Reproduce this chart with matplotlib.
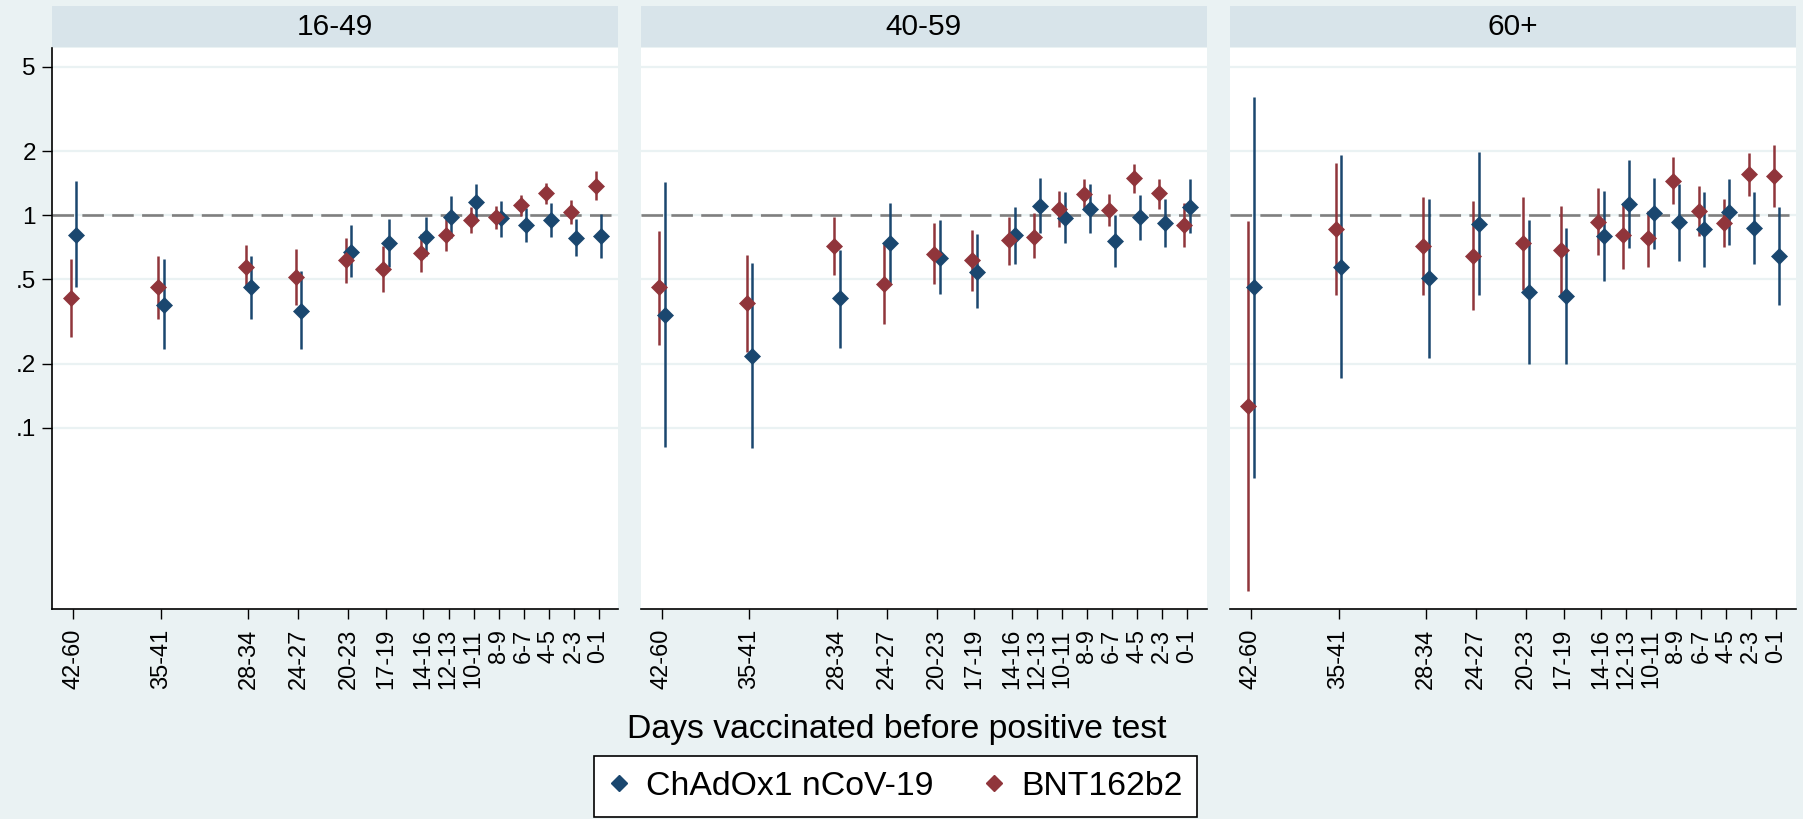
import matplotlib.pyplot as plt
from matplotlib.lines import Line2D
from matplotlib.patches import Rectangle

plt.rcParams['font.family'] = ['Liberation Sans', 'DejaVu Sans']
plt.rcParams['lines.scale_dashes'] = False

# x position = first day of each band (axis reversed)
day_start = [42, 35, 28, 24, 20, 17, 14, 12, 10, 8, 6, 4, 2, 0]
day_labels = ['42-60', '35-41', '28-34', '24-27', '20-23', '17-19', '14-16',
              '12-13', '10-11', '8-9', '6-7', '4-5', '2-3', '0-1']
groups = ['16-49', '40-59', '60+']

# ChAdOx1 nCoV-19: odds ratio and 95% CI per age group
chad_est_1649 = [0.81, 0.38, 0.46, 0.355, 0.67, 0.74, 0.79, 0.985, 1.16, 0.97, 0.90, 0.95, 0.785, 0.80]
chad_lo_1649 = [0.46, 0.234, 0.325, 0.234, 0.51, 0.57, 0.64, 0.785, 0.96, 0.79, 0.75, 0.79, 0.643, 0.63]
chad_hi_1649 = [1.45, 0.62, 0.645, 0.547, 0.90, 0.964, 0.978, 1.236, 1.408, 1.171, 1.08, 1.146, 0.964, 1.014]
chad_est_4059 = [0.341, 0.217, 0.407, 0.738, 0.632, 0.543, 0.805, 1.109, 0.968, 1.071, 0.760, 0.979, 0.917, 1.098]
chad_lo_4059 = [0.081, 0.080, 0.237, 0.478, 0.425, 0.365, 0.588, 0.824, 0.738, 0.823, 0.573, 0.765, 0.707, 0.823]
chad_hi_4059 = [1.434, 0.595, 0.687, 1.139, 0.947, 0.817, 1.098, 1.493, 1.291, 1.404, 1.0, 1.246, 1.193, 1.482]
chad_est_60 = [0.458, 0.573, 0.505, 0.907, 0.434, 0.417, 0.799, 1.130, 1.022, 0.927, 0.859, 1.040, 0.869, 0.646]
chad_lo_60 = [0.058, 0.171, 0.214, 0.420, 0.199, 0.199, 0.492, 0.699, 0.692, 0.610, 0.569, 0.725, 0.590, 0.379]
chad_hi_60 = [3.61, 1.921, 1.189, 1.978, 0.950, 0.869, 1.305, 1.814, 1.493, 1.41, 1.291, 1.477, 1.283, 1.098]

# BNT162b2
bnt_est_1649 = [0.41, 0.458, 0.569, 0.511, 0.614, 0.557, 0.663, 0.808, 0.950, 0.982, 1.118, 1.277, 1.033, 1.378]
bnt_lo_1649 = [0.268, 0.324, 0.45, 0.379, 0.479, 0.434, 0.539, 0.682, 0.828, 0.862, 0.992, 1.134, 0.910, 1.18]
bnt_hi_1649 = [0.625, 0.643, 0.725, 0.694, 0.782, 0.715, 0.816, 0.96, 1.098, 1.11, 1.246, 1.423, 1.180, 1.61]
bnt_est_4059 = [0.458, 0.385, 0.719, 0.474, 0.658, 0.616, 0.765, 0.793, 1.067, 1.255, 1.059, 1.493, 1.269, 0.900]
bnt_lo_4059 = [0.245, 0.228, 0.522, 0.308, 0.475, 0.442, 0.584, 0.628, 0.884, 1.066, 0.893, 1.277, 1.071, 0.712]
bnt_hi_4059 = [0.846, 0.651, 0.982, 0.729, 0.917, 0.853, 0.985, 1.022, 1.301, 1.477, 1.259, 1.738, 1.482, 1.138]
bnt_est_60 = [0.127, 0.859, 0.717, 0.646, 0.738, 0.687, 0.933, 0.805, 0.785, 1.454, 1.048, 0.923, 1.564, 1.536]
bnt_lo_60 = [0.017, 0.422, 0.422, 0.358, 0.445, 0.427, 0.651, 0.557, 0.573, 1.130, 0.799, 0.707, 1.232, 1.098]
bnt_hi_60 = [0.940, 1.768, 1.223, 1.167, 1.223, 1.106, 1.339, 1.14, 1.05, 1.886, 1.374, 1.189, 1.970, 2.141]

chad = [(chad_est_1649, chad_lo_1649, chad_hi_1649),
        (chad_est_4059, chad_lo_4059, chad_hi_4059),
        (chad_est_60, chad_lo_60, chad_hi_60)]
bnt = [(bnt_est_1649, bnt_lo_1649, bnt_hi_1649),
       (bnt_est_4059, bnt_lo_4059, bnt_hi_4059),
       (bnt_est_60, bnt_lo_60, bnt_hi_60)]

navy = '#1a476f'
maroon = '#90353b'
bg = '#eaf2f3'
strip_col = '#d8e4ea'
grid_col = '#eaf2f3'

W, H = 1803, 819
fig = plt.figure(figsize=(W / 100, H / 100), dpi=100, facecolor=bg)

panel_left = [52, 640.5, 1229.7]
pw = 566
top, bottom = 47.7, 609.3
shift = 0.22

for i, g in enumerate(groups):
    ax = fig.add_axes([panel_left[i] / W, 1 - bottom / H, pw / W, (bottom - top) / H])
    ax.set_facecolor('white')
    ax.set_yscale('log')
    ax.set_ylim(0.0140, 6.14)
    ax.set_xlim(43.7, -1.55)

    ax.set_yticks([0.1, 0.2, 0.5, 1, 2, 5])
    ax.set_yticklabels(['.1', '.2', '.5', '1', '2', '5'])
    ax.yaxis.set_minor_locator(plt.NullLocator())
    ax.grid(axis='y', color=grid_col, lw=1.6, zorder=0)
    ax.set_axisbelow(True)
    ax.axhline(1, color='#7f7f7f', lw=1.9, dashes=(15.5, 6), zorder=2)

    ax.set_xticks(day_start)
    ax.set_xticklabels(day_labels, rotation=90)
    ax.tick_params(axis='x', length=7.2, width=1, pad=7, labelsize=17, colors='black')
    ax.tick_params(axis='y', length=7.2, width=1, pad=4.5, labelsize=17.5)

    for side in ['top', 'right']:
        ax.spines[side].set_visible(False)
    ax.spines['bottom'].set_linewidth(1.2)
    if i == 0:
        ax.spines['left'].set_linewidth(1.2)
    else:
        ax.spines['left'].set_visible(False)
        ax.tick_params(axis='y', left=False, labelleft=False)

    c_est, c_lo, c_hi = chad[i]
    b_est, b_lo, b_hi = bnt[i]
    xc = [d - shift for d in day_start]
    xb = [d + shift for d in day_start]
    ax.vlines(xc, c_lo, c_hi, color=navy, lw=1.8, zorder=3)
    ax.vlines(xb, b_lo, b_hi, color=maroon, lw=1.8, zorder=3)
    ax.plot(xc, c_est, 'D', ms=8, color=navy, mec=navy, mew=0.5, zorder=4)
    ax.plot(xb, b_est, 'D', ms=8, color=maroon, mec=maroon, mew=0.5, zorder=5)

    # panel title strip
    fig.add_artist(Rectangle((panel_left[i] / W, 1 - 46.7 / H), pw / W, 41 / H,
                             transform=fig.transFigure, facecolor=strip_col,
                             edgecolor='none'))
    fig.text((panel_left[i] + pw / 2) / W, 1 - 35 / H, g, ha='center',
             va='baseline', fontsize=21.5)

fig.text(896.5 / W, 1 - 738.3 / H, 'Days vaccinated before positive test',
         ha='center', va='baseline', fontsize=24.3)

handles = [Line2D([], [], ls='none', marker='D', ms=8.5, color=navy),
           Line2D([], [], ls='none', marker='D', ms=8.5, color=maroon)]
leg = fig.legend(handles, ['ChAdOx1 nCoV-19', 'BNT162b2'], loc='center',
                 bbox_to_anchor=(895.5 / W, 1 - 786.5 / H), ncol=2,
                 frameon=True, fancybox=False, edgecolor='black',
                 facecolor='white', framealpha=1, fontsize=24.3,
                 handlelength=0.6, handletextpad=0.5, columnspacing=1.5,
                 borderpad=0.43, borderaxespad=0)
leg.get_frame().set_linewidth(1.2)

fig.savefig('out.png', dpi=100, facecolor=bg)
